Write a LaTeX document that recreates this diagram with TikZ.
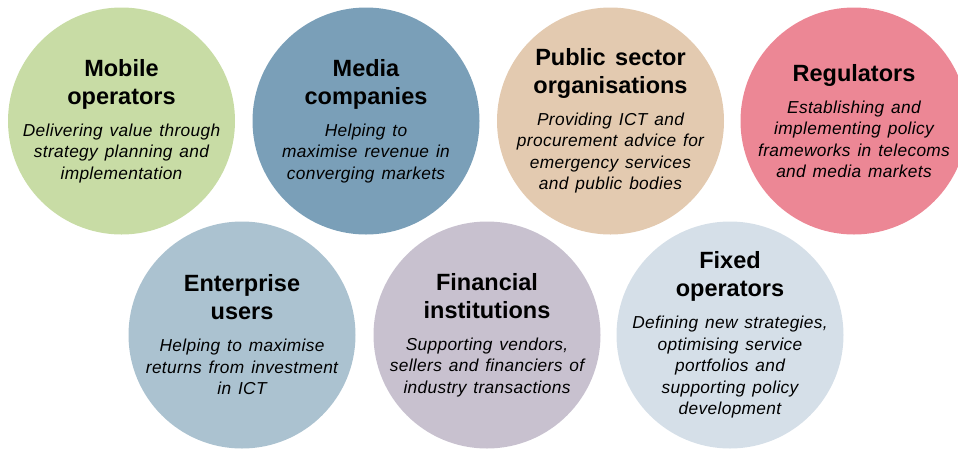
\documentclass[tikz,border=0pt]{standalone}
\usepackage{fontspec}
\setmainfont{Liberation Sans}
\newfontfamily\bodyfont[LetterSpace=2]{Liberation Sans}
\definecolor{cmob}{HTML}{C8DCA5}
\definecolor{cmed}{HTML}{7A9FB8}
\definecolor{cpub}{HTML}{E3CAB0}
\definecolor{creg}{HTML}{EC8795}
\definecolor{cent}{HTML}{ABC2D0}
\definecolor{cfin}{HTML}{C8C1CF}
\definecolor{cfix}{HTML}{D5DFE8}
\newcommand\cttl[1]{{\fontsize{23.5}{28}\selectfont\bfseries\spaceskip=0.4em #1\par}}
\newcommand\cbdy[1]{{\bodyfont\fontsize{17.3}{21.5}\selectfont\itshape\spaceskip=0.4em #1\par}}
\begin{document}
\begin{tikzpicture}[x=1pt,y=-1pt,
  circ/.style={circle,draw=none,minimum size=227pt,inner sep=0pt},
  txt/.style={text width=226pt,align=center,inner sep=0pt,text=black}]
\useasboundingbox (0,0) rectangle (958,448);
\begin{scope}
\clip (0,0) rectangle (958,448);
\node[circ,fill=cmob] (mob) at (121.5,121) {};
\node[circ,fill=cmed] (med) at (366,121) {};
\node[circ,fill=cpub] (pub) at (610.5,121) {};
\node[circ,fill=creg] (reg) at (854,121) {};
\node[circ,fill=cent] (ent) at (242,335) {};
\node[circ,fill=cfin] (fin) at (487,335) {};
\node[circ,fill=cfix] (fix) at (730,335) {};
\end{scope}
\node[txt] (mobt) at (mob.center) {\cttl{Mobile\\operators}\vspace{10.5pt}\cbdy{Delivering value through\\strategy planning and\\implementation}};
\node[txt] (medt) at (med.center) {\cttl{Media\\companies}\vspace{10.5pt}\cbdy{Helping to\\maximise revenue in\\converging markets}};
\node[txt] (pubt) at (pub.center) {\cttl{Public sector\\organisations}\vspace{10.5pt}\cbdy{Providing ICT and\\procurement advice for\\emergency services\\and public bodies}};
\node[txt] (regt) at (reg.center) {\cttl{Regulators}\vspace{10.5pt}\cbdy{Establishing and\\implementing policy\\frameworks in telecoms\\and media markets}};
\node[txt] (entt) at (ent.center) {\cttl{Enterprise\\users}\vspace{10.5pt}\cbdy{Helping to maximise\\returns from investment\\in ICT}};
\node[txt] (fint) at (fin.center) {\cttl{Financial\\institutions}\vspace{10.5pt}\cbdy{Supporting vendors,\\sellers and financiers of\\industry transactions}};
\node[txt] (fixt) at (fix.center) {\cttl{Fixed\\operators}\vspace{10.5pt}\cbdy{Defining new strategies,\\optimising service\\portfolios and\\supporting policy\\development}};
\end{tikzpicture}
\end{document}
